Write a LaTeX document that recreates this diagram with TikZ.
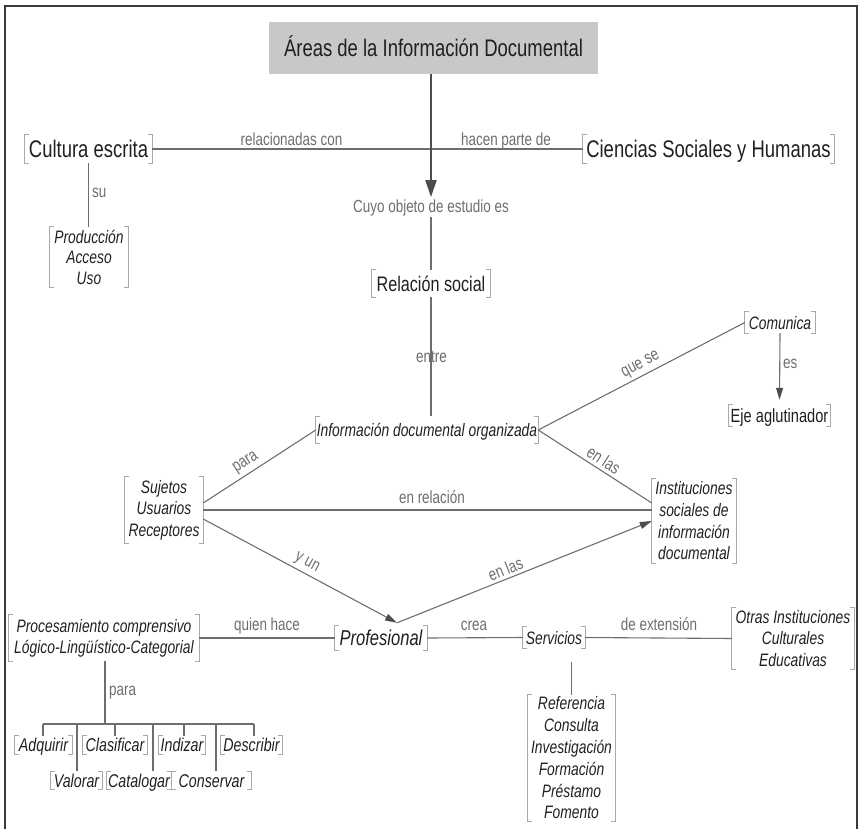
\documentclass[tikz,border=0pt]{standalone}
\usepackage{fontspec}
\setmainfont{Liberation Sans}[FakeStretch=0.77]
\usetikzlibrary{arrows.meta}
\definecolor{lin}{HTML}{6D6E71}
\definecolor{brc}{HTML}{A7A9AC}
\definecolor{txt}{HTML}{231F20}
\definecolor{arr}{HTML}{4D4D4F}
\definecolor{ttl}{HTML}{C7C8CA}
\definecolor{frm}{HTML}{3A3A3C}
\newcommand\brk[1]{\draw[brc, line width=0.9pt] ([xshift=4.5pt]#1.north west) -- (#1.north west) -- (#1.south west) -- ([xshift=4.5pt]#1.south west) ([xshift=-4.5pt]#1.north east) -- (#1.north east) -- (#1.south east) -- ([xshift=-4.5pt]#1.south east);}
\begin{document}
\begin{tikzpicture}[x=1pt,y=-1pt,
 nd/.style={inner sep=0pt, align=center, text=txt},
 big/.style={font=\fontsize{24}{28}\selectfont, text height=17.3pt, text depth=0pt},
 mid/.style={font=\fontsize{21}{25}\selectfont, text height=15.1pt, text depth=0pt},
 itf/.style={font=\fontsize{18}{#1}\selectfont\itshape},
 itf/.default=21.5,
 sl/.style={text height=13pt, text depth=0pt},
 sm/.style={font=\fontsize{18.5}{21}\selectfont\itshape, text height=13.3pt, text depth=0pt, minimum height=18pt},
 lab/.style={font=\fontsize{17.5}{20}\selectfont, text=lin, inner sep=0pt},
 con/.style={draw=lin, line width=1.1pt},
 tip/.style={-{Triangle[length=12pt,width=7pt,color=arr]}}
]
\useasboundingbox (0,0) rectangle (859,829);
\draw[frm, line width=1.4pt] (5,829) -- (5,6) -- (857,6) -- (857,829);

% nodes
\node[nd, fill=ttl, minimum width=329pt, minimum height=52pt, big] (title) at (433.5,48) {Áreas de la Información Documental};
\node[nd, big, minimum width=127pt, minimum height=28pt] (cult) at (88.5,149) {Cultura escrita};
\node[nd, big, minimum width=251pt, minimum height=28pt] (cien) at (708.5,149) {Ciencias Sociales y Humanas};
\node[nd, itf=20.5, minimum width=78pt, minimum height=60pt] (prod) at (89,257) {Producción\\Acceso\\Uso};
\node[lab, anchor=base] (cuyo) at (431,213) {Cuyo objeto de estudio es};
\node[nd, mid, minimum width=118pt, minimum height=27pt] (rel) at (431,283.5) {Relación social};
\node[nd, itf, sl, minimum width=222pt, minimum height=27pt] (info) at (427,430) {Información documental organizada};
\node[nd, itf, sl, minimum width=70pt, minimum height=21pt] (com) at (780,322.5) {Comunica};
\node[nd, font=\fontsize{19}{22}\selectfont, sl, minimum width=101pt, minimum height=21pt] (eje) at (779.5,415.5) {Eje aglutinador};
\node[nd, itf=21.5, minimum width=78pt, minimum height=66pt] (suj) at (164,510) {Sujetos\\Usuarios\\Receptores};
\node[nd, itf=21.7, minimum width=84pt, minimum height=84pt] (inst) at (694,521) {Instituciones\\sociales de\\información\\documental};
\node[nd, font=\fontsize{21.5}{25}\selectfont\itshape, text height=15.5pt, text depth=0pt, minimum width=92pt, minimum height=24pt] (prof) at (381,638) {Profesional};
\node[nd, itf=21, minimum width=190pt, minimum height=46pt] (proc) at (104,638) {Procesamiento comprensivo\\Lógico-Lingüístico-Categorial};
\node[nd, itf, sl, minimum width=62pt, minimum height=21pt] (serv) at (554,637.5) {Servicios};
\node[nd, itf=21.5, minimum width=122pt, minimum height=61pt] (otras) at (793,638.5) {Otras Instituciones\\Culturales\\Educativas};
\node[nd, itf=21.8, minimum width=87pt, minimum height=126pt] (ref) at (571.5,758) {Referencia\\Consulta\\Investigación\\Formación\\Préstamo\\Fomento};
\node[nd, sm, minimum width=57pt] (adq) at (43.5,745) {Adquirir};
\node[nd, sm, minimum width=64pt] (clas) at (115,745) {Clasificar};
\node[nd, sm, minimum width=46pt] (ind) at (182,745) {Indizar};
\node[nd, sm, minimum width=61pt] (desc) at (251.5,745) {Describir};
\node[nd, sm, minimum width=51pt] (val) at (76.5,780.5) {Valorar};
\node[nd, sm, minimum width=64pt] (cat) at (139,780.5) {Catalogar};
\node[nd, sm, minimum width=79pt] (cons) at (211.5,780.5) {Conservar};

\foreach \n in {cult,cien,prod,rel,info,com,eje,suj,inst,prof,proc,serv,otras,ref,adq,clas,ind,desc,val,cat,cons} {\brk{\n}}

% plain labels
\node[lab, anchor=base] (lrel) at (291.5,146) {relacionadas con};
\node[lab, anchor=base] (lhac) at (506,146) {hacen parte de};
\node[lab, anchor=base west] (lsu) at (92,198) {su};
\node[lab, anchor=base west] (les) at (783,368) {es};
\node[lab, anchor=base] (lenrel) at (432,503) {en relación};
\node[lab, anchor=base] (lquien) at (267,630) {quien hace};
\node[lab, anchor=base] (lcrea) at (474,630) {crea};
\node[lab, anchor=base] (lext) at (659,630) {de extensión};
\node[lab, anchor=base west] (lpara) at (109,695) {para};

% connectors
\draw[con] (cult.east) -- (cien.west);
\draw[con] (cult.south) -- (cult.south |- prod.north);
\draw[draw=arr, line width=2pt, -{Triangle[length=17pt,width=11pt]}] (cuyo.north |- title.south) -- ([yshift=3pt]cuyo.north);
\draw[con] (cuyo.south) -- (rel.north);
\draw[con] (rel.south) -- (rel.south |- info.north);
\node[lab, anchor=base] (lentre) at (431.5,362) {entre};
\draw[con] (info.east) -- (com.west) node[lab, sloped, above=3pt, pos=0.52] (lque) {que se};
\draw[con, tip] (com.south) -- ([yshift=5pt]eje.north);
\draw[con] (info.east) -- ([yshift=18pt]inst.west) node[lab, sloped, above=3pt, pos=0.53] (lenlas1) {en las};
\draw[con] ([yshift=7pt]suj.east) -- (info.west) node[lab, sloped, above=3pt, pos=0.43] (lpara2) {para};
\draw[con] (suj.east) -- (suj.east -| inst.west);
\coordinate (pt) at ([xshift=16pt,yshift=3pt]prof.north);
\draw[con, tip] ([yshift=-9pt]suj.east) -- (pt) node[lab, sloped, above=3pt, pos=0.51] (lyun) {y un};
\draw[con, tip] (pt) -- (inst.west) node[lab, sloped, above=3pt, pos=0.44] (lenlas2) {en las};
\draw[con] (proc.east) -- (prof.west);
\draw[con] (prof.east) -- (serv.west);
\draw[con] (serv.east) -- (otras.west);
\coordinate (sv) at ([xshift=17.5pt,yshift=-14pt]serv.south);
\draw[con] (sv) -- (sv |- ref.north);
% tree
\coordinate (hub) at (105,724);
\draw[con] (proc.south -| hub) -- (hub);
\coordinate (t1) at (43,724);
\coordinate (t2) at (77,724);
\coordinate (t3) at (115,724);
\coordinate (t4) at (153,724);
\coordinate (t5) at (184,724);
\coordinate (t6) at (216,724);
\coordinate (t7) at (254,724);
\draw[con] (t1) -- (t7);
\draw[con] (t1) -- (t1 |- adq.north);
\draw[con] (t2) -- (t2 |- val.north);
\draw[con] (t3) -- (t3 |- clas.north);
\draw[con] (t4) -- (t4 |- cat.north);
\draw[con] (t5) -- (t5 |- ind.north);
\draw[con] (t6) -- (t6 |- cons.north);
\draw[con] (t7) -- (t7 |- desc.north);
\end{tikzpicture}
\end{document}
